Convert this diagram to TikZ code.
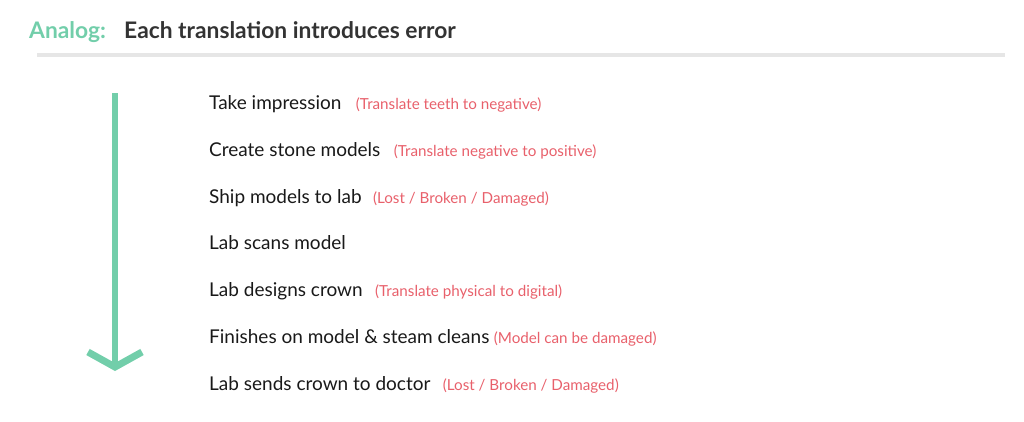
\documentclass[tikz,border=0pt]{standalone}
\usepackage{fontspec}
\setmainfont{Lato}
\usetikzlibrary{positioning}
\definecolor{mint}{RGB}{114,206,170}
\definecolor{notered}{RGB}{232,96,107}
\definecolor{rulegray}{RGB}{230,230,230}
\definecolor{titlegray}{RGB}{51,51,51}
\tikzset{
  stepitem/.style={anchor=base west, inner sep=0pt, text=black!90, font=\fontsize{19}{22}\selectfont},
  noteitem/.style={anchor=base west, inner sep=0pt, text=notered, font=\fontsize{15.2}{18}\selectfont},
  titleitem/.style={anchor=base west, inner sep=0pt, font=\bfseries\fontsize{22.8}{26}\selectfont},
}

\begin{document}
\begin{tikzpicture}[x=1pt,y=1pt,yscale=-1,xscale=1]
\useasboundingbox (0,0) rectangle (1024,421);

%Title
\node[titleitem, text=mint] (analog) at (29,38) {Analog:};
\node[titleitem, text=titlegray] (headline) at (124,38) {Each translation introduces error};
%Rule under title
\coordinate (ruleL) at (37,55);
\coordinate (ruleR) at (1005,55);
\draw [rulegray, line width=4] (ruleL) -- (ruleR);

%Arrow
\coordinate (arrtop) at (115,93);
\coordinate (arrtip) at (115,367);
\draw [mint, line width=6] (arrtop) -- (arrtip);
\draw [mint, line width=7, miter limit=4] ([shift={(-27,-15)}]arrtip) -- (arrtip) -- ([shift={(27,-15)}]arrtip);

%Steps
\node[stepitem] (impression) at (209,109) {Take impression};
\node[stepitem] (stone) at (209,156) {Create stone models};
\node[stepitem] (ship) at (209,203) {Ship models to lab};
\node[stepitem] (scan) at (209,249) {Lab scans model};
\node[stepitem] (design) at (209,296) {Lab designs crown};
\node[stepitem] (finish) at (209,343) {Finishes on model \& steam cleans};
\node[stepitem] (send) at (209,390) {Lab sends crown to doctor};

%Notes
\node[noteitem] (impressionnote) at ([xshift=14]impression.base east) {(Translate teeth to negative)};
\node[noteitem] (stonenote) at ([xshift=13]stone.base east) {(Translate negative to positive)};
\node[noteitem] (shipnote) at ([xshift=11]ship.base east) {(Lost / Broken / Damaged)};
\node[noteitem] (designnote) at ([xshift=12]design.base east) {(Translate physical to digital)};
\node[noteitem] (finishnote) at ([xshift=4]finish.base east) {(Model can be damaged)};
\node[noteitem] (sendnote) at ([xshift=12]send.base east) {(Lost / Broken / Damaged)};

\end{tikzpicture}
\end{document}
